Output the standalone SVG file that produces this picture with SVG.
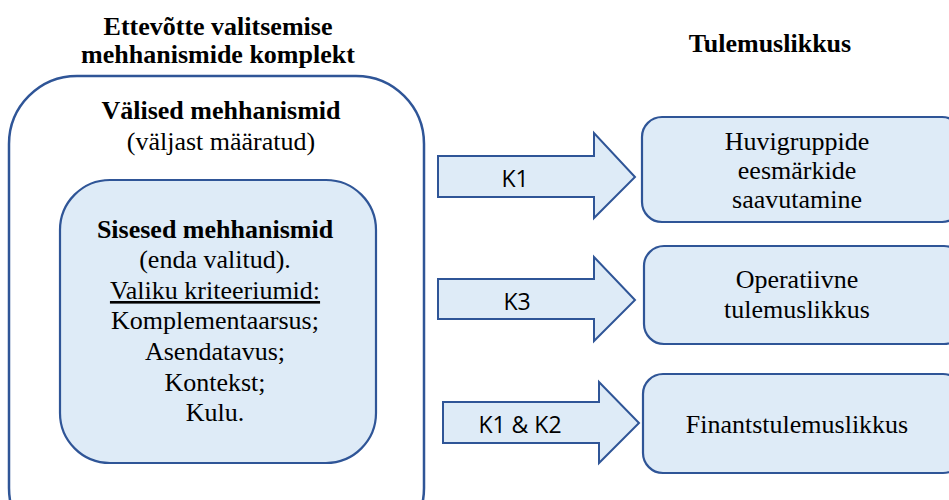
<svg xmlns="http://www.w3.org/2000/svg" width="949" height="500" viewBox="0 0 949 500">
<style>
.s{font-family:"Liberation Serif","Times New Roman",serif;font-size:26px;fill:#000;text-anchor:middle}
.b{font-weight:bold}
.box{fill:#DEEBF7;stroke:#2F5597;stroke-width:2.2}
.arr{fill:#DEEBF7;stroke:#2F5597;stroke-width:2}
.k{font-family:"Open Sans","Liberation Sans",sans-serif;font-size:23px;fill:#000;text-anchor:middle}
</style>
<rect width="949" height="500" fill="#fff"/>
<g id="titles">
<text class="s b" x="218" y="35">Ettevõtte valitsemise</text>
<text class="s b" x="218" y="63">mehhanismide komplekt</text>
<text class="s b" x="770" y="52">Tulemuslikkus</text>
</g>
<g id="outer">
<rect x="9" y="76" width="415" height="480" rx="68" ry="68" fill="#fff" stroke="#2F5597" stroke-width="2.5"/>
<text class="s b" x="221" y="119">Välised mehhanismid</text>
<text class="s" x="221" y="150">(väljast määratud)</text>
</g>
<g id="inner">
<rect class="box" x="60" y="180" width="316" height="283" rx="50" ry="50"/>
<text class="s b" x="215" y="238">Sisesed mehhanismid</text>
<text class="s" x="215" y="268">(enda valitud).</text>
<text class="s" x="215" y="299" text-decoration="underline">Valiku kriteeriumid:</text>
<text class="s" x="215" y="329">Komplementaarsus;</text>
<text class="s" x="215" y="360">Asendatavus;</text>
<text class="s" x="215" y="391">Kontekst;</text>
<text class="s" x="215" y="421">Kulu.</text>
</g>
<g id="connectors">
<path class="arr" d="M438,156 H594 V133 L635,177 L594,218 V197 H438 Z"/>
<text class="k" x="515" y="187">K1</text>
<path class="arr" d="M438,279 H594 V257 L635,300 L594,341 V319 H438 Z"/>
<text class="k" x="517" y="310">K3</text>
<path class="arr" d="M443,402 H599 V382 L639,423 L599,463 V443 H443 Z"/>
<text class="k" x="520" y="433">K1 &amp; K2</text>
</g>
<g id="out1">
<rect class="box" x="642" y="117" width="320" height="105" rx="20" ry="20"/>
<text class="s" x="797" y="150">Huvigruppide</text>
<text class="s" x="797" y="179">eesmärkide</text>
<text class="s" x="797" y="208">saavutamine</text>
</g>
<g id="out2">
<rect class="box" x="644" y="246" width="320" height="98" rx="20" ry="20"/>
<text class="s" x="797" y="288">Operatiivne</text>
<text class="s" x="797" y="318">tulemuslikkus</text>
</g>
<g id="out3">
<rect class="box" x="643" y="374" width="320" height="99" rx="20" ry="20"/>
<text class="s" x="797" y="433">Finantstulemuslikkus</text>
</g>
</svg>
